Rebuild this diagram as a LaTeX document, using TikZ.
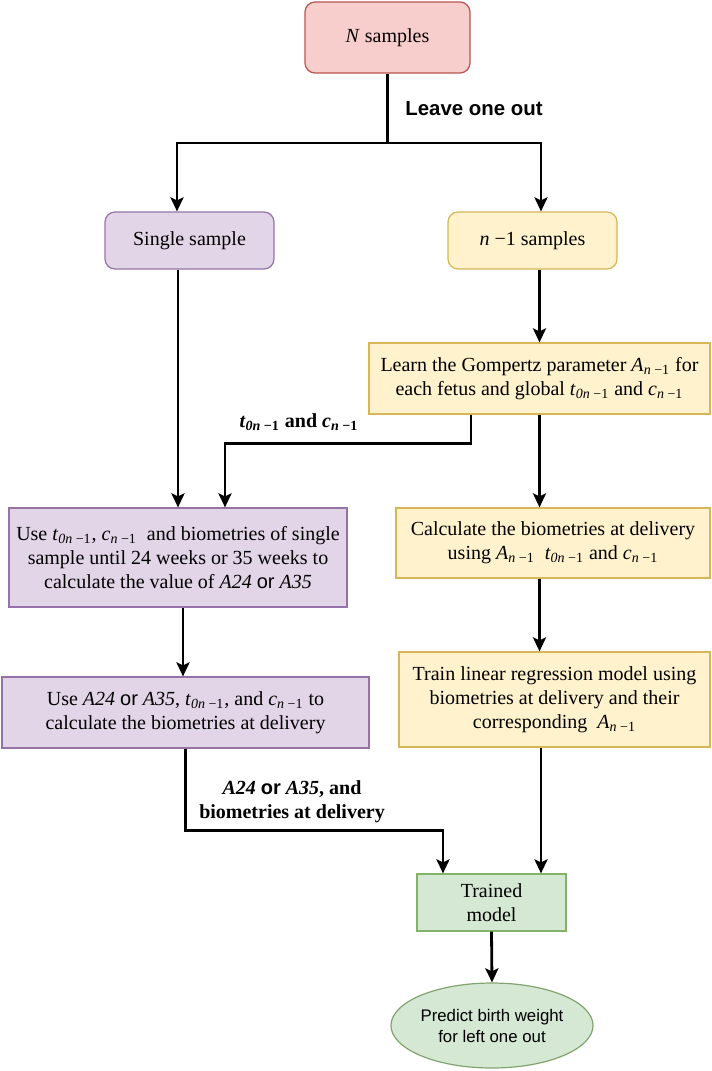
\documentclass[tikz,border=0pt]{standalone}
\usepackage{fontspec}
\setmainfont{Liberation Serif}
\newfontfamily\labelsans{Liberation Sans}
\usetikzlibrary{arrows.meta}
\usetikzlibrary{shapes.geometric}

\definecolor{pinkFill}{HTML}{F8CECC}
\definecolor{pinkLine}{HTML}{B85450}
\definecolor{purpleFill}{HTML}{E1D5E7}
\definecolor{purpleLine}{HTML}{9673A6}
\definecolor{yellowFill}{HTML}{FFF2CC}
\definecolor{yellowLine}{HTML}{D6B656}
\definecolor{greenFill}{HTML}{D5E8D4}
\definecolor{greenLine}{HTML}{82B366}

\newcommand{\Anm}{\textit{A}\textsubscript{\textit{n} −1}}
\newcommand{\tnm}{\textit{t}\textsubscript{\textit{0n} −1}}
\newcommand{\cnm}{\textit{c}\textsubscript{\textit{n} −1}}
\newcommand{\orword}{{\labelsans or}}

\begin{document}
\begin{tikzpicture}[x = 0.5pt, y = -0.5pt, font = \fontsize{10}{12}\selectfont]
	\tikzstyle{boxStyle} = [rectangle, draw, line width = 0.6pt, inner sep = 2pt, align = center]
	\tikzstyle{roundStyle} = [boxStyle, rounded corners = 5pt]
	\tikzstyle{pinkStyle} = [fill = pinkFill, draw = pinkLine]
	\tikzstyle{purpleStyle} = [fill = purpleFill, draw = purpleLine]
	\tikzstyle{yellowStyle} = [fill = yellowFill, draw = yellowLine]
	\tikzstyle{greenStyle} = [fill = greenFill, draw = greenLine]
	\tikzstyle{arrowStyle} = [line width = 1.4pt, -{Stealth[length = 7pt, width = 6.5pt, inset = 1.5pt]}]
	\tikzstyle{lineStyle} = [line width = 1.4pt]
	\tikzstyle{labelStyle} = [align = center, inner sep = 0pt, font = \fontsize{10}{12}\selectfont\bfseries]
	\useasboundingbox (0, 0) rectangle (712, 1071);
	\node[roundStyle, pinkStyle, minimum width = 82.5pt, minimum height = 35.5pt] (nall) at (387.5, 37.5) {\textit{N} samples};
	\node[roundStyle, purpleStyle, minimum width = 84.5pt, minimum height = 28.5pt] (single) at (189.5, 240.5) {Single sample};
	\node[roundStyle, yellowStyle, minimum width = 84.5pt, minimum height = 28.5pt] (rest) at (532.5, 240.5) {\textit{n} −1 samples};
	\node[boxStyle, yellowStyle, minimum width = 170.5pt, minimum height = 35.5pt] (learn) at (539.5, 378.5) {Learn the Gompertz parameter \Anm{} for\\each fetus and global \tnm{} and \cnm};
	\node[boxStyle, purpleStyle, minimum width = 169pt, minimum height = 49.5pt] (useone) at (178, 557.5) {Use \tnm, \cnm{}\ \ and biometries of single\\sample until 24 weeks or 35 weeks to\\calculate the value of \textit{A24} \orword{} \textit{A35}};
	\node[boxStyle, yellowStyle, minimum width = 157pt, minimum height = 35pt] (calc) at (553, 543) {Calculate the biometries at delivery\\using \Anm{}\ \ \tnm{} and \cnm};
	\node[boxStyle, purpleStyle, minimum width = 183.5pt, minimum height = 35.5pt] (usetwo) at (185.5, 712.5) {Use \textit{A24} \orword{} \textit{A35}, \tnm, and \cnm{} to\\calculate the biometries at delivery};
	\node[boxStyle, yellowStyle, minimum width = 155.5pt, minimum height = 47.5pt] (train) at (554.5, 699.5) {Train linear regression model using\\biometries at delivery and their\\corresponding\ \ \Anm};
	\node[boxStyle, greenStyle, minimum width = 74.5pt, minimum height = 28.5pt] (trained) at (491.5, 902.5) {Trained\\model};
	\node[ellipse, draw = greenLine!70!gray, fill = greenFill, line width = 0.6pt, inner sep = 0pt, minimum width = 85pt, minimum height = 42.5pt, align = center, font = \labelsans\fontsize{8.4}{10.5}\selectfont] (predict) at (492, 1025.5) {Predict birth weight\\for left one out};
	\node[labelStyle, font = \labelsans\fontsize{10.2}{12}\selectfont\bfseries] (leave) at (474, 108.5) {Leave one out};
	\node[labelStyle] (params) at (299, 422) {\tnm{} and \cnm};
	\node[labelStyle] (result) at (292, 801.5) {\textit{A24} \orword{} \textit{A35}, and\\biometries at delivery};
	\coordinate (split) at (387.5, 143);
	\draw[lineStyle] (nall.south) -- (split);
	\draw[arrowStyle] (split) -| ([xshift = -6.25pt]single.north);
	\draw[arrowStyle] (split) -| ([xshift = 4.25pt]rest.north);
	\draw[arrowStyle] (single.south -| useone.north) -- (useone.north);
	\draw[arrowStyle] (rest.south -| learn.north) -- (learn.north);
	\draw[arrowStyle] ([xshift = -34.25pt]learn.south) -- ++(0, 29) -| ([xshift = 23.5pt]useone.north);
	\draw[arrowStyle] (learn.south) -- (learn.south |- calc.north);
	\draw[arrowStyle] (calc.south -| learn.south) -- (learn.south |- train.north);
	\draw[arrowStyle] ([xshift = 2.5pt]useone.south) -- ([xshift = 2.5pt]useone.south |- usetwo.north);
	\draw[arrowStyle] (usetwo.south) -- ++(0, 82) -| ([xshift = -24.25pt]trained.north);
	\draw[arrowStyle] ([xshift = 24.75pt]trained.north |- train.south) -- ([xshift = 24.75pt]trained.north);
	\draw[arrowStyle] (trained.south) -- (predict.north);
\end{tikzpicture}
\end{document}
